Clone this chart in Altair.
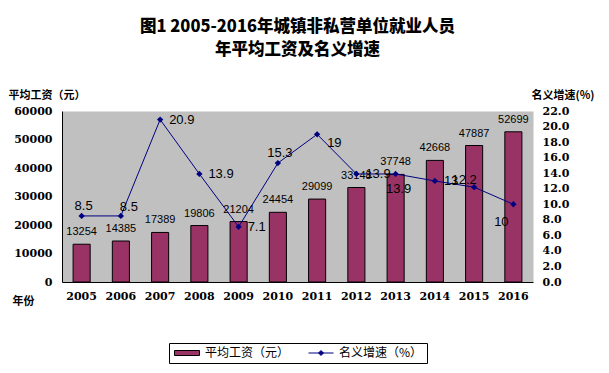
import altair as alt
import pandas as pd

years = ["2005", "2006", "2007", "2008", "2009", "2010",
         "2011", "2012", "2013", "2014", "2015", "2016"]
wages = [13254, 14385, 17389, 19806, 21204, 24454,
         29099, 33148, 37748, 42668, 47887, 52699]
growth = [8.5, 8.5, 20.9, 13.9, 7.1, 15.3, 19, 13.9, 13.9, 13, 12.2, 10]

wage_series = "平均工资（元）"
growth_series = "名义增速（%）"
series_names = [wage_series, growth_series]

df = pd.DataFrame({"year": years, "wage": wages, "growth": growth})
df["glabel"] = [f"{g:g}" for g in growth]
legend_df = pd.DataFrame({"series": series_names})

CJK = "Noto Sans CJK SC"
NUM = "DejaVu Serif"
LBL = "Liberation Sans"

base = alt.Chart(df)

band = alt.Scale(paddingInner=0.565, paddingOuter=0.2825)
x_enc = alt.X(
    "year:O",
    title="年份",
    scale=band,
    axis=alt.Axis(labelAngle=0, labelFont=NUM, labelFontWeight="bold",
                  labelFontSize=11, labelColor="black", ticks=False,
                  domainColor="black", labelPadding=8,
                  titleFont=CJK, titleFontWeight="bold", titleFontSize=11,
                  titleColor="black", titleAngle=0, titleX=-50, titleY=19,
                  titleAlign="left", titleBaseline="middle"),
)
x_plain = alt.X("year:O", scale=band)

wage_y = alt.Y(
    "wage:Q",
    scale=alt.Scale(domain=[0, 60000]),
    axis=alt.Axis(values=list(range(0, 60001, 10000)), format="d",
                  title="平均工资（元）", grid=False, ticks=False,
                  labelFont=NUM, labelFontWeight="bold", labelFontSize=11,
                  labelColor="black", labelPadding=10, domainColor="black",
                  titleFont=CJK, titleFontWeight="bold", titleFontSize=11,
                  titleColor="black", titleAngle=0, titleX=-54, titleY=-16,
                  titleAlign="left", titleBaseline="middle"),
)
wage_y_plain = alt.Y("wage:Q", scale=alt.Scale(domain=[0, 60000]), axis=None)

bars = base.mark_bar(stroke="black", strokeWidth=1, fill="#993366").encode(
    x=x_enc, y=wage_y,
)

bar_text = base.mark_text(dy=-12, fontSize=11, font=LBL, color="black",
                          baseline="middle").encode(
    x=x_plain, y=wage_y_plain,
    text=alt.Text("wage:Q", format="d"),
)

growth_y = alt.Y(
    "growth:Q",
    scale=alt.Scale(domain=[0, 22]),
    axis=alt.Axis(orient="right", values=list(range(0, 23, 2)), format=".1f",
                  title="名义增速(%)", grid=False, ticks=False, domain=False,
                  labelFont=NUM, labelFontWeight="bold", labelFontSize=11,
                  labelColor="black", labelPadding=9,
                  titleFont=CJK, titleFontWeight="bold", titleFontSize=11,
                  titleColor="black", titleAngle=0, titleX=-2, titleY=-16,
                  titleAlign="left", titleBaseline="middle"),
)
growth_y_plain = alt.Y("growth:Q", scale=alt.Scale(domain=[0, 22]), axis=None)

line = base.mark_line(color="#000080", strokeWidth=1).encode(x=x_plain, y=growth_y)
points = base.mark_point(shape="diamond", filled=True, color="#000080",
                         size=40, opacity=1).encode(x=x_plain, y=growth_y_plain)

label_groups = [
    (["2005", "2010"], dict(dx=2, dy=-10, align="center")),
    (["2006"], dict(dx=8, dy=-9, align="center")),
    (["2007", "2008", "2009", "2012", "2014"], dict(dx=9, dy=0, align="left")),
    (["2011"], dict(dx=10, dy=9, align="left")),
    (["2013"], dict(dx=3, dy=15, align="center")),
    (["2015"], dict(dx=-10, dy=-7, align="center")),
    (["2016"], dict(dx=-12, dy=18, align="center")),
]
growth_texts = []
for yrs, opts in label_groups:
    growth_texts.append(
        base.transform_filter(alt.FieldOneOfPredicate(field="year", oneOf=yrs))
        .mark_text(fontSize=13, font=LBL, color="black", baseline="middle", **opts)
        .encode(x=x_plain, y=growth_y_plain, text="glabel:N")
    )

legend_opts = dict(
    title=None, orient="none", legendX=107, legendY=232,
    direction="horizontal", strokeColor="black", padding=4,
    symbolSize=100, symbolOffset=8, labelOffset=12,
    columnPadding=16, labelFont=CJK, labelFontSize=12,
    labelColor="black", symbolOpacity=1, symbolStrokeWidth=1,
)

# legend-only layer (invisible points; only its legend is shown)
legend_layer = alt.Chart(legend_df).mark_point(filled=True, strokeWidth=1, opacity=0).encode(
    x=alt.value(10),
    y=alt.value(10),
    fill=alt.Fill("series:N",
                  scale=alt.Scale(domain=series_names, range=["#993366", "#000080"]),
                  legend=alt.Legend(**legend_opts)),
    stroke=alt.Stroke("series:N",
                      scale=alt.Scale(domain=series_names, range=["black", "#000080"]),
                      legend=alt.Legend(**legend_opts)),
    shape=alt.Shape("series:N",
                    scale=alt.Scale(domain=series_names,
                                    range=["M-2.5,-0.5H2.5V0.5H-2.5Z",
                                           "M-2.5,0H2.5M-0.5,0L0,-0.5L0.5,0L0,0.5Z"]),
                    legend=alt.Legend(**legend_opts)),
)

chart = (
    alt.layer(bars, bar_text, line, points, *growth_texts, legend_layer)
    .resolve_scale(y="independent")
    .properties(
        width=471, height=171,
        title=alt.TitleParams(
            text=["图1 2005-2016年城镇非私营单位就业人员", "年平均工资及名义增速"],
            font=CJK, fontSize=16.5, fontWeight=900, color="black",
            anchor="middle", lineHeight=23, offset=31,
        ),
        autosize=alt.AutoSizeParams(type="none"),
        padding={"left": 54, "top": 103, "right": 66, "bottom": 82},
        background="white",
    )
    .configure_view(fill="#C0C0C0", stroke="transparent")
)

chart.save("out.html", embed_options={"renderer": "svg", "actions": False})
